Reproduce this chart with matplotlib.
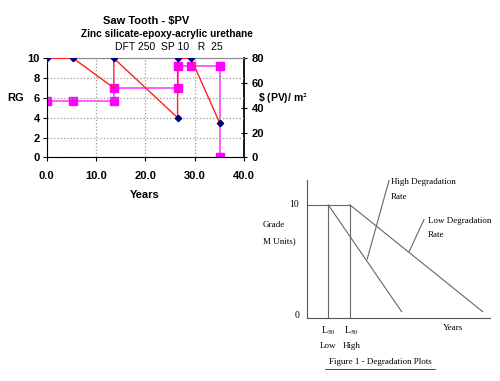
import matplotlib
matplotlib.use("Agg")
import matplotlib.pyplot as plt

plt.rcParams['font.family'] = ['Liberation Sans', 'DejaVu Sans']
plt.rcParams['mathtext.fontset'] = 'stix'

# Saw tooth data: rating grade (left axis)
rg_years = [0.0, 5.4, 13.6, 13.6, 26.5, 26.5, 29.2, 35.0]
rg_grade = [10, 10, 7, 10, 4, 10, 10, 3.5]

# present value per m2 (right axis)
pv_years = [0.0, 5.4, 13.6, 13.6, 26.5, 26.5, 29.2, 35.0, 35.0]
pv_cost = [45.5, 45.5, 45.5, 56, 56, 73.5, 73.5, 73.5, 0]

x_ticks = [0, 10, 20, 30, 40]
rg_ticks = [0, 2, 4, 6, 8, 10]
pv_ticks = [0, 20, 40, 60, 80]

# schematic degradation plot (diagram units)
grade_top = 10
l50_low = 1.18
l50_high = 2.36
high_rate_end = (5.18, 0.56)
low_rate_end = (9.6, 0.56)

fig = plt.figure(figsize=(5, 3.81), dpi=100)

# ---- saw tooth chart ----
ax = fig.add_axes([0.0933, 0.587, 0.3953, 0.26])
ax2 = ax.twinx()

ax.plot(rg_years, rg_grade, color='#ff2020', lw=1, zorder=3)
ax.plot(rg_years, rg_grade, ls='none', marker='D', ms=3.2, color='#000080', zorder=5,
        markevery=[0, 1, 3, 4, 5, 6, 7])
ax2.plot(pv_years, pv_cost, color='#ff40ff', lw=1.2, marker='s', ms=5.5,
         mfc='#ff00ff', mec='#ff00ff', zorder=4)

ax.set_zorder(ax2.get_zorder() + 1)
ax.patch.set_visible(False)

ax.set_xlim(0, 40)
ax.set_ylim(0, 10)
ax2.set_ylim(0, 80)
ax.set_xticks(x_ticks)
ax.set_xticklabels([f"{v:.1f}" for v in x_ticks])
ax.set_yticks(rg_ticks)
ax2.set_yticks(pv_ticks)
ax.grid(True, color='#999999', ls=':', lw=0.9)

for a in (ax, ax2):
    for s in a.spines.values():
        s.set_visible(False)
ax.spines['left'].set_visible(True)
ax.spines['bottom'].set_visible(True)
ax.spines['top'].set_visible(True)
ax.spines['top'].set_color('#888888')
ax2.spines['right'].set_visible(True)
ax2.spines['right'].set_linewidth(1.3)

ax.tick_params(axis='both', labelsize=8, length=3, width=0.8, pad=2)
ax2.tick_params(axis='y', labelsize=8, length=5, width=0.8, direction='inout', pad=3)
for lab in ax.get_xticklabels() + ax.get_yticklabels() + ax2.get_yticklabels():
    lab.set_fontweight('bold')
ax.tick_params(axis='x', pad=7)

fig.text(0.292, 0.937, "Saw Tooth - $PV", ha='center', fontsize=8, fontweight='bold')
fig.text(0.333, 0.902, "Zinc silicate-epoxy-acrylic urethane", ha='center',
         fontsize=7.3, fontweight='bold')
fig.text(0.337, 0.868, "DFT 250  SP 10   R  25", ha='center', fontsize=7.5)
fig.text(0.014, 0.742, "RG", ha='left', va='center', fontsize=8, fontweight='bold')
fig.text(0.516, 0.742, r"\$ (PV)/ m$^{\mathbf{2}}$", ha='left', va='center', fontsize=7.5,
         fontweight='bold')
fig.text(0.29, 0.488, "Years", ha='center', va='center', fontsize=8, fontweight='bold')

# ---- degradation diagram ----
serif = ['Liberation Serif', 'DejaVu Serif']
dx = fig.add_axes([0.6133, 0.1654, 0.3667, 0.3622])
dx.set_xlim(0, 10)
dx.set_ylim(0, 12.2)
dx.set_xticks([])
dx.set_yticks([])
for k in ('top', 'right'):
    dx.spines[k].set_visible(False)
for k in ('left', 'bottom'):
    dx.spines[k].set_color('#555555')
    dx.spines[k].set_linewidth(0.8)

lc = '#666666'
dx.plot([0, l50_high], [grade_top, grade_top], color=lc, lw=0.8)
dx.plot([l50_low, l50_low], [0, grade_top], color=lc, lw=0.8)
dx.plot([l50_high, l50_high], [0, grade_top], color=lc, lw=0.8)
dx.plot([l50_low, high_rate_end[0]], [grade_top, high_rate_end[1]], color=lc, lw=0.8)
dx.plot([l50_high, low_rate_end[0]], [grade_top, low_rate_end[1]], color=lc, lw=0.8)
# leader lines
dx.plot([4.5, 3.3], [12.2, 5.2], color=lc, lw=0.8)
dx.plot([6.4, 5.6], [8.7, 5.9], color=lc, lw=0.8)

dx.text(-0.4, grade_top, "10", ha='right', va='center', fontsize=7, family=serif)
dx.text(-0.4, 0.2, "0", ha='right', va='center', fontsize=7, family=serif)
dx.text(-2.4, 8.2, "Grade", ha='left', va='center', fontsize=6.5, family=serif)
dx.text(-2.4, 6.8, "M Units)", ha='left', va='center', fontsize=6.5, family=serif)
dx.text(4.6, 12.0, "High Degradation", ha='left', va='center', fontsize=6.5, family=serif)
dx.text(4.6, 10.7, "Rate", ha='left', va='center', fontsize=6.5, family=serif)
dx.text(6.6, 8.6, "Low Degradation", ha='left', va='center', fontsize=6.5, family=serif)
dx.text(6.6, 7.3, "Rate", ha='left', va='center', fontsize=6.5, family=serif)
dx.text(8.0, -0.9, "Years", ha='center', va='center', fontsize=6.5, family=serif)
dx.text(l50_low, -1.1, r"L$_{50}$", ha='center', va='center', fontsize=7, family=serif)
dx.text(l50_low, -2.5, "Low", ha='center', va='center', fontsize=6.5, family=serif)
dx.text(l50_high + 0.1, -1.1, r"L$_{50}$", ha='center', va='center', fontsize=7, family=serif)
dx.text(l50_high + 0.1, -2.5, "High", ha='center', va='center', fontsize=6.5, family=serif)
dx.text(4.0, -3.9, "Figure 1 - Degradation Plots", ha='center', va='center',
        fontsize=6.5, family=serif)
dx.plot([1.0, 7.0], [-4.55, -4.55], color='black', lw=0.5, clip_on=False)

fig.savefig("out.png", dpi=100)
